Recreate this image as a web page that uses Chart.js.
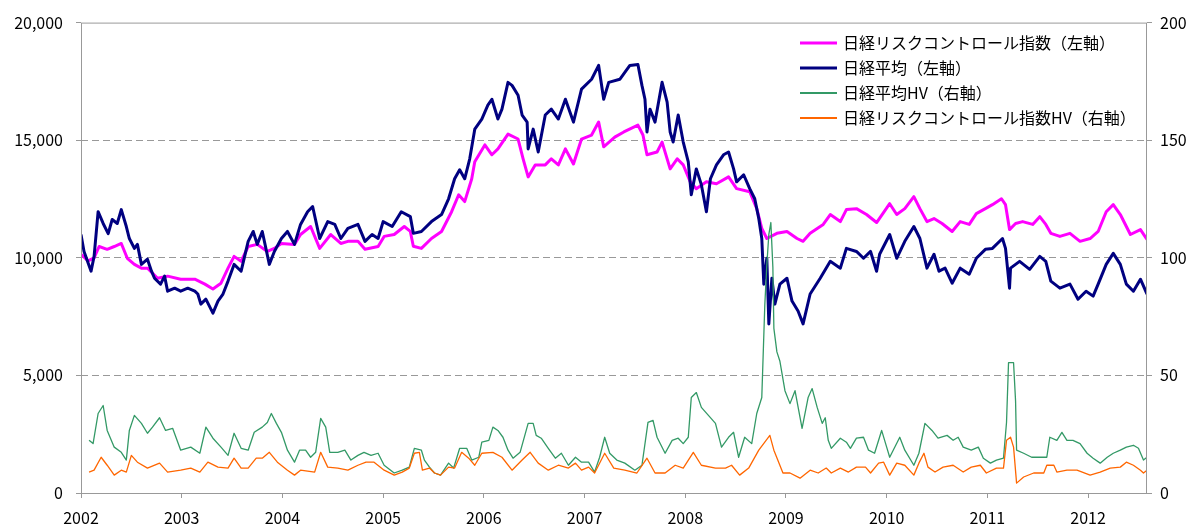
<!DOCTYPE html>
<html>
<head>
<meta charset="utf-8">
<script src="https://cdn.jsdelivr.net/npm/chart.js@4.4.1/dist/chart.umd.min.js"></script>
<style>
  html, body { margin: 0; padding: 0; background: #fff; }
  #wrap { width: 1192px; height: 527px; }
</style>
</head>
<body>
<div id="wrap"><canvas id="grafico" width="1192" height="527"></canvas></div>
<script>
// anos no eixo x
const anos = [2002, 2003, 2004, 2005, 2006, 2007, 2008, 2009, 2010, 2011, 2012]
const ticksEsq = [0, 5000, 10000, 15000, 20000]
const ticksDir = [0, 50, 100, 150, 200]

const nomes = ['日経リスクコントロール指数（左軸）', '日経平均（左軸）', '日経平均HV（右軸）', '日経リスクコントロール指数HV（右軸）']

// [ano decimal, valor]
const riskCtrl = [[2002.00,10150],[2002.07,9870],[2002.13,10000],[2002.18,10480],[2002.26,10360],[2002.33,10480],[2002.40,10610],[2002.46,9980],[2002.53,9720],[2002.60,9560],[2002.66,9560],[2002.76,9130],[2002.86,9220],[2002.99,9090],[2003.13,9090],[2003.23,8880],[2003.31,8670],[2003.39,8920],[2003.46,9560],[2003.52,10060],[2003.59,9850],[2003.66,10480],[2003.75,10570],[2003.85,10270],[2003.92,10400],[2003.99,10610],[2004.12,10570],[2004.18,10990],[2004.28,11330],[2004.37,10400],[2004.48,10990],[2004.58,10610],[2004.65,10700],[2004.75,10700],[2004.82,10360],[2004.95,10480],[2005.01,10910],[2005.11,10990],[2005.21,11330],[2005.27,11120],[2005.30,10490],[2005.38,10400],[2005.48,10820],[2005.58,11120],[2005.68,11960],[2005.75,12680],[2005.81,12390],[2005.88,13360],[2005.91,14080],[2006.01,14800],[2006.08,14380],[2006.14,14630],[2006.24,15260],[2006.34,15050],[2006.39,14210],[2006.44,13440],[2006.51,13950],[2006.61,13950],[2006.67,14210],[2006.74,13950],[2006.81,14630],[2006.89,13990],[2006.97,15050],[2007.07,15220],[2007.14,15770],[2007.19,14720],[2007.30,15130],[2007.39,15350],[2007.53,15640],[2007.58,15220],[2007.62,14380],[2007.72,14500],[2007.77,14920],[2007.85,13780],[2007.92,14210],[2007.98,13950],[2008.05,13230],[2008.11,12940],[2008.21,13230],[2008.31,13150],[2008.43,13440],[2008.51,12940],[2008.64,12810],[2008.71,12090],[2008.76,11250],[2008.81,10820],[2008.91,11040],[2009.01,11120],[2009.11,10820],[2009.17,10700],[2009.24,11040],[2009.37,11420],[2009.44,11840],[2009.54,11540],[2009.60,12050],[2009.70,12090],[2009.80,11840],[2009.90,11500],[2010.03,12300],[2010.10,11840],[2010.18,12090],[2010.27,12600],[2010.33,12090],[2010.40,11540],[2010.47,11670],[2010.55,11460],[2010.65,11120],[2010.73,11540],[2010.82,11420],[2010.89,11880],[2010.98,12090],[2011.05,12260],[2011.14,12510],[2011.18,12260],[2011.22,11200],[2011.28,11460],[2011.35,11540],[2011.45,11420],[2011.52,11750],[2011.58,11420],[2011.63,11040],[2011.72,10910],[2011.82,11040],[2011.92,10700],[2012.02,10820],[2012.10,11120],[2012.18,11960],[2012.25,12260],[2012.32,11840],[2012.42,10990],[2012.52,11200],[2012.585,10780]]

const nikkei = [[2002.00,10990],[2002.03,10270],[2002.10,9430],[2002.13,10060],[2002.17,11960],[2002.22,11460],[2002.27,11030],[2002.31,11630],[2002.36,11460],[2002.40,12050],[2002.45,11330],[2002.48,10820],[2002.53,10400],[2002.56,10570],[2002.60,9720],[2002.66,9940],[2002.70,9430],[2002.73,9130],[2002.79,8880],[2002.83,9220],[2002.86,8580],[2002.93,8710],[2002.99,8580],[2003.06,8710],[2003.13,8580],[2003.16,8460],[2003.19,8030],[2003.24,8240],[2003.31,7650],[2003.36,8160],[2003.41,8460],[2003.46,9010],[2003.52,9720],[2003.59,9430],[2003.66,10700],[2003.71,11120],[2003.75,10570],[2003.80,11120],[2003.87,9720],[2003.92,10270],[2003.99,10820],[2004.05,11120],[2004.12,10570],[2004.18,11420],[2004.25,11960],[2004.30,12180],[2004.37,10820],[2004.45,11540],[2004.52,11420],[2004.58,10820],[2004.65,11250],[2004.75,11420],[2004.82,10700],[2004.89,10990],[2004.95,10820],[2005.00,11540],[2005.09,11330],[2005.18,11960],[2005.27,11750],[2005.30,11040],[2005.38,11120],[2005.48,11540],[2005.58,11840],[2005.65,12510],[2005.71,13360],[2005.76,13740],[2005.81,13360],[2005.86,14210],[2005.91,15470],[2005.98,15900],[2006.04,16490],[2006.08,16740],[2006.14,15900],[2006.18,16320],[2006.24,17460],[2006.28,17330],[2006.34,16910],[2006.38,16070],[2006.43,15770],[2006.44,14630],[2006.49,15470],[2006.54,14500],[2006.61,16070],[2006.67,16320],[2006.74,15900],[2006.81,16740],[2006.89,15770],[2006.97,17170],[2007.07,17590],[2007.14,18180],[2007.19,16740],[2007.24,17460],[2007.35,17590],[2007.45,18180],[2007.53,18220],[2007.57,17330],[2007.60,16740],[2007.62,15350],[2007.65,16320],[2007.70,15770],[2007.77,17460],[2007.82,16620],[2007.85,15350],[2007.88,14920],[2007.93,16070],[2007.98,14920],[2008.03,14080],[2008.06,12680],[2008.11,13780],[2008.16,13110],[2008.21,11960],[2008.25,13360],[2008.31,13950],[2008.38,14380],[2008.43,14500],[2008.48,13780],[2008.51,13230],[2008.58,13530],[2008.64,12940],[2008.69,12510],[2008.73,11670],[2008.76,10820],[2008.78,8880],[2008.81,9980],[2008.83,7190],[2008.86,9130],[2008.89,8030],[2008.94,8880],[2009.01,9130],[2009.06,8160],[2009.12,7740],[2009.17,7190],[2009.24,8460],[2009.34,9130],[2009.44,9850],[2009.54,9560],[2009.60,10400],[2009.70,10270],[2009.77,9980],[2009.84,10270],[2009.90,9430],[2009.93,10150],[2010.03,10990],[2010.10,9980],[2010.18,10700],[2010.27,11330],[2010.33,10820],[2010.40,9560],[2010.47,10150],[2010.52,9430],[2010.58,9560],[2010.65,8920],[2010.73,9560],[2010.82,9300],[2010.89,9980],[2010.98,10360],[2011.05,10400],[2011.15,10820],[2011.18,10400],[2011.22,8710],[2011.23,9560],[2011.32,9850],[2011.42,9510],[2011.52,10060],[2011.58,9850],[2011.63,9010],[2011.72,8710],[2011.82,8880],[2011.90,8240],[2011.98,8580],[2012.05,8370],[2012.10,8880],[2012.18,9720],[2012.25,10190],[2012.32,9720],[2012.38,8880],[2012.45,8580],[2012.52,9090],[2012.585,8460]]

const nikkeiHV = [[2002.08,22.4],[2002.12,21],[2002.17,33.8],[2002.22,37.2],[2002.26,26.6],[2002.33,19.5],[2002.40,17.3],[2002.45,14],[2002.48,26.6],[2002.53,33],[2002.60,29.6],[2002.66,25.4],[2002.71,28],[2002.78,32],[2002.84,26.6],[2002.91,27.5],[2002.99,18.2],[2003.09,19.5],[2003.18,16.9],[2003.24,28],[2003.31,23.3],[2003.39,19.5],[2003.46,16],[2003.52,25.4],[2003.59,19],[2003.66,18.2],[2003.72,25.8],[2003.80,28],[2003.85,30],[2003.89,33.8],[2003.94,29.6],[2003.99,25.8],[2004.05,18.2],[2004.12,13.1],[2004.17,18.2],[2004.23,18.2],[2004.28,15.2],[2004.33,17.3],[2004.38,31.7],[2004.43,28],[2004.47,17.3],[2004.55,17.3],[2004.62,18.2],[2004.68,14],[2004.75,16],[2004.81,17.3],[2004.88,16],[2004.95,16.9],[2005.01,11.8],[2005.11,8.5],[2005.19,9.7],[2005.26,11],[2005.31,19],[2005.38,18.2],[2005.41,14],[2005.46,11],[2005.51,8.5],[2005.57,7.6],[2005.65,12.7],[2005.70,10.6],[2005.76,19],[2005.83,19],[2005.88,14],[2005.95,15.2],[2005.98,21.6],[2006.05,22.4],[2006.09,28],[2006.14,26.6],[2006.19,23.7],[2006.24,18.2],[2006.29,14.8],[2006.36,17.3],[2006.44,29.6],[2006.49,29.6],[2006.52,24.5],[2006.57,23.3],[2006.64,19],[2006.71,14.8],[2006.77,16.9],[2006.84,11.8],[2006.91,15.2],[2006.97,13.1],[2007.04,13.1],[2007.10,8.9],[2007.15,15.2],[2007.20,23.7],[2007.25,16.9],[2007.32,14],[2007.40,12.7],[2007.50,9.7],[2007.57,11.8],[2007.63,30],[2007.68,30.9],[2007.72,23.7],[2007.80,16.9],[2007.87,22.4],[2007.93,23.3],[2007.98,21],[2008.03,23.7],[2008.06,40.6],[2008.11,42.7],[2008.16,36.4],[2008.23,33],[2008.30,29.6],[2008.36,19.5],[2008.43,23.7],[2008.48,25.8],[2008.53,15.2],[2008.59,23.7],[2008.66,21],[2008.71,33.8],[2008.76,40.6],[2008.79,80],[2008.81,97],[2008.83,110],[2008.85,115],[2008.87,96],[2008.88,70],[2008.91,60],[2008.94,56],[2008.99,43.5],[2009.04,38],[2009.09,43.5],[2009.16,27.5],[2009.22,40.6],[2009.26,44.4],[2009.31,36.4],[2009.36,29.6],[2009.39,32],[2009.42,22.4],[2009.45,19],[2009.54,23.3],[2009.60,21.6],[2009.64,19],[2009.70,23.3],[2009.77,23.7],[2009.82,18.2],[2009.88,16.9],[2009.95,26.6],[2010.00,19.5],[2010.03,15.2],[2010.13,23.7],[2010.18,18.2],[2010.27,11.8],[2010.32,16.9],[2010.38,29.6],[2010.45,26.6],[2010.51,23.3],[2010.60,24.5],[2010.66,22.4],[2010.71,23.7],[2010.76,19.5],[2010.84,18.2],[2010.91,19.5],[2010.96,14.8],[2011.03,12.7],[2011.09,14],[2011.16,14.8],[2011.19,30],[2011.21,55.4],[2011.26,55.4],[2011.28,39],[2011.29,18.2],[2011.36,16.9],[2011.44,15.2],[2011.52,15.2],[2011.59,15.2],[2011.62,23.7],[2011.69,22.4],[2011.74,25.8],[2011.79,22.4],[2011.85,22.4],[2011.92,21],[2011.99,16.9],[2012.05,14.8],[2012.12,12.7],[2012.19,15.2],[2012.25,16.9],[2012.32,18.2],[2012.38,19.5],[2012.45,20.3],[2012.50,19],[2012.55,14],[2012.585,15.2]]

const riskCtrlHV = [[2002.08,8.9],[2002.13,9.7],[2002.20,15.2],[2002.26,11.8],[2002.33,7.6],[2002.40,9.7],[2002.45,8.9],[2002.50,16],[2002.56,13.1],[2002.66,10.6],[2002.78,12.7],[2002.86,8.9],[2002.99,9.7],[2003.09,10.6],[2003.18,8.9],[2003.26,13.1],[2003.36,11],[2003.46,10.6],[2003.52,14.8],[2003.59,10.6],[2003.66,10.6],[2003.74,14.8],[2003.80,14.8],[2003.87,17.3],[2003.95,13.1],[2004.05,9.7],[2004.12,7.6],[2004.18,9.7],[2004.32,8.9],[2004.38,17.3],[2004.45,11],[2004.55,10.6],[2004.65,9.7],[2004.75,11.8],[2004.83,13.1],[2004.91,13.1],[2005.01,9.7],[2005.11,7.6],[2005.19,8.9],[2005.26,10.6],[2005.31,16.9],[2005.36,17.3],[2005.39,9.7],[2005.46,10.6],[2005.51,8.5],[2005.57,7.6],[2005.65,11],[2005.71,10.6],[2005.78,17.3],[2005.85,14.8],[2005.91,11.8],[2005.98,16.9],[2006.09,17.3],[2006.18,15.2],[2006.28,9.7],[2006.38,14],[2006.46,17.3],[2006.54,12.7],[2006.64,9.7],[2006.74,11.8],[2006.84,10.6],[2006.91,12.7],[2006.97,9.7],[2007.04,11],[2007.10,8.5],[2007.20,16.9],[2007.29,10.6],[2007.40,9.7],[2007.52,8.5],[2007.62,14.8],[2007.70,8.5],[2007.80,8.5],[2007.90,11.8],[2007.98,10.6],[2008.08,17.3],[2008.16,11.8],[2008.30,10.6],[2008.40,10.6],[2008.46,11.8],[2008.54,7.6],[2008.63,10.6],[2008.73,18.2],[2008.84,24.5],[2008.88,18.2],[2008.97,8.5],[2009.04,8.5],[2009.14,6.3],[2009.24,9.7],[2009.32,8.5],[2009.40,10.6],[2009.45,8.5],[2009.54,10.6],[2009.62,8.9],[2009.70,11],[2009.79,11],[2009.84,8.5],[2009.92,12.7],[2009.97,13.1],[2010.03,7.6],[2010.10,12.7],[2010.18,11.8],[2010.27,7.6],[2010.32,12.7],[2010.37,16.9],[2010.41,11],[2010.48,8.9],[2010.56,11],[2010.66,11.8],[2010.76,8.9],[2010.84,11],[2010.93,11.8],[2010.99,8.5],[2011.09,10.6],[2011.16,10.6],[2011.19,22.4],[2011.23,23.7],[2011.26,19.5],[2011.29,4.2],[2011.36,6.8],[2011.46,8.5],[2011.56,8.5],[2011.59,11.8],[2011.66,11.8],[2011.69,8.9],[2011.79,9.7],[2011.89,9.7],[2012.02,7.6],[2012.12,8.9],[2012.22,10.6],[2012.32,11],[2012.38,13.1],[2012.45,11.8],[2012.52,9.7],[2012.55,8.5],[2012.585,9.7]]

const cores = ['#FF00FF', '#000080', '#339966', '#FF6600']
const espessuras = [3, 3, 1.3, 1.3]

const pontos = serie => serie.map(p => ({x: p[0], y: p[1]}))

/** moldura cinza em volta da área do gráfico */
const moldura = {
    id: 'moldura',
    afterDatasetsDraw(chart){
        const {ctx, chartArea: a} = chart
        ctx.save()
        ctx.strokeStyle = '#999'
        ctx.lineWidth = 1
        ctx.strokeRect(a.left + 0.5, a.top + 0.5, a.right - a.left - 1, a.bottom - a.top)
        ctx.restore()
    }
}

/** legenda dentro do gráfico, no canto superior direito */
const legendaInterna = {
    id: 'legendaInterna',
    afterDraw(chart){
        const ctx = chart.ctx
        ctx.save()
        ctx.font = '16px "Noto Sans CJK JP"'
        ctx.textBaseline = 'middle'
        ctx.fillStyle = '#000'
        nomes.forEach((nome, i) => {
            const y = 43 + i * 25
            ctx.strokeStyle = cores[i]
            ctx.lineWidth = espessuras[i] + (i < 2 ? 0 : 0.5)
            ctx.beginPath()
            ctx.moveTo(800, y)
            ctx.lineTo(837, y)
            ctx.stroke()
            ctx.fillText(nome, 843, y)
        })
        ctx.restore()
    }
}

const fonteTicks = {family: '"Noto Sans CJK JP"', size: 16}

function criaGrafico(){
    const ctx = document.getElementById('grafico').getContext('2d')
    const series = [riskCtrl, nikkei, nikkeiHV, riskCtrlHV]
    const eixos = ['y', 'y', 'y1', 'y1']

    new Chart(ctx, {
        type: 'line',
        data: {
            datasets: series.map((s, i) => ({
                label: nomes[i],
                data: pontos(s),
                yAxisID: eixos[i],
                borderColor: cores[i],
                backgroundColor: cores[i],
                borderWidth: espessuras[i],
                borderJoinStyle: 'round',
                pointRadius: 0,
                tension: 0,
                order: 4 - i
            }))
        },
        options: {
            responsive: false,
            animation: false,
            layout: {padding: {top: 20, left: 0, right: 0, bottom: 0}},
            plugins: {
                legend: {display: false},
                tooltip: {enabled: false}
            },
            scales: {
                x: {
                    type: 'linear',
                    min: 2002,
                    max: 2012.585,
                    afterBuildTicks: scale => { scale.ticks = anos.map(v => ({value: v})) },
                    afterFit: scale => { scale.height = 34 },
                    grid: {drawOnChartArea: false, drawTicks: true, tickLength: 5, color: '#999'},
                    border: {display: false},
                    ticks: {
                        font: fonteTicks, color: '#000', padding: 10,
                        autoSkip: false, maxRotation: 0,
                        callback: v => String(v)
                    }
                },
                y: {
                    position: 'left',
                    min: 0, max: 20000,
                    afterBuildTicks: scale => { scale.ticks = ticksEsq.map(v => ({value: v})) },
                    afterFit: scale => { scale.width = 81 },
                    grid: {
                        color: c => (c.tick && (c.tick.value === 0 || c.tick.value === 20000)) ? 'rgba(0,0,0,0)' : '#999',
                        tickColor: '#999',
                        tickLength: 5,
                        lineWidth: 1
                    },
                    border: {display: false, dash: [7, 4]},
                    ticks: {
                        font: fonteTicks, color: '#000', padding: 13,
                        callback: v => v.toLocaleString('en-US')
                    }
                },
                y1: {
                    position: 'right',
                    min: 0, max: 200,
                    afterBuildTicks: scale => { scale.ticks = ticksDir.map(v => ({value: v})) },
                    afterFit: scale => { scale.width = 45 },
                    grid: {drawOnChartArea: false, tickLength: 5, color: '#999'},
                    border: {display: false},
                    ticks: {font: fonteTicks, color: '#000', padding: 8}
                }
            }
        },
        plugins: [moldura, legendaInterna]
    })
}

window.onload = () => {
    criaGrafico()
}
</script>
</body>
</html>
